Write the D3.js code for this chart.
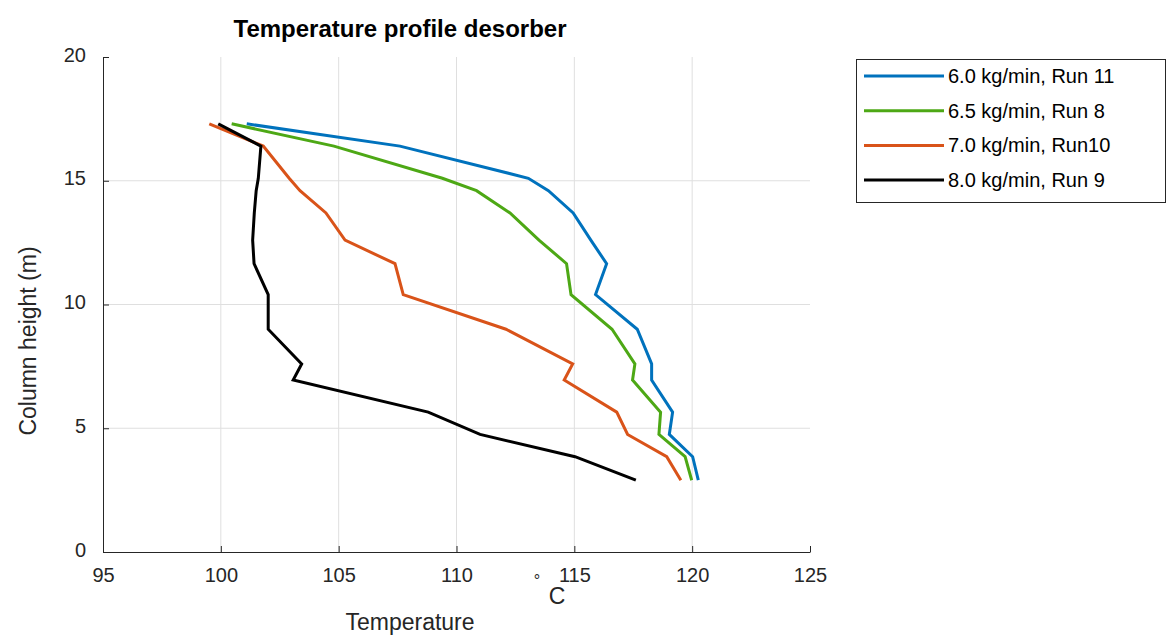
<!DOCTYPE html>
<html>
<head>
<meta charset="utf-8">
<script src="https://cdn.jsdelivr.net/npm/d3@7"></script>
<style>
  body { margin: 0; background: #fff; }
  svg { display: block; font-family: "Liberation Sans", Arial, sans-serif; }
</style>
</head>
<body>
<svg id="chart" width="1167" height="635"></svg>
<script>
// ---- data ----
const heights = [17.3, 16.4, 15.1, 14.6, 13.7, 12.6, 11.65, 10.4, 9.0, 7.6, 6.95, 5.65, 4.75, 3.85, 2.9];
const seriesNames = ["6.0 kg/min, Run 11", "6.5 kg/min, Run 8", "7.0 kg/min, Run10", "8.0 kg/min, Run 9"];
const run11 = [101.1, 107.6, 113.05, 113.9, 114.95, 115.7, 116.37, 115.9, 117.67, 118.28, 118.28, 119.17, 119.03, 120.02, 120.26];
const run8  = [100.46, 104.8, 109.4, 110.85, 112.27, 113.5, 114.67, 114.86, 116.6, 117.57, 117.47, 118.66, 118.59, 119.7, 119.98];
const run10 = [99.51, 101.8, 102.9, 103.36, 104.46, 105.27, 107.39, 107.74, 112.1, 114.93, 114.57, 116.8, 117.26, 118.92, 119.52];
const run9  = [99.89, 101.7, 101.59, 101.5, 101.42, 101.35, 101.41, 102.01, 102.01, 103.43, 103.07, 108.8, 111.0, 115.03, 117.61];
const seriesValues = [run11, run8, run10, run9];
const colors = ["#0072BD", "#4DA815", "#D95319", "#000000"];
const xTicks = [95, 100, 105, 110, 115, 120, 125];
const yTicks = [0, 5, 10, 15, 20];

// ---- layout ----
const svg = d3.select("#chart");
const L = 103, R = 810, T = 57, B = 552;
const x = d3.scaleLinear().domain([95, 125]).range([L, R]);
const y = d3.scaleLinear().domain([0, 20]).range([B, T]);
const axisColor = "#262626";

// grid
const g = svg.append("g");
g.selectAll(".gx").data(xTicks.filter(d => d > 95 && d < 125)).enter().append("line")
  .attr("x1", d => x(d)).attr("x2", d => x(d)).attr("y1", T).attr("y2", B)
  .attr("stroke", "#dfdfdf").attr("stroke-width", 1);
g.selectAll(".gy").data(yTicks.filter(d => d > 0 && d < 20)).enter().append("line")
  .attr("y1", d => y(d)).attr("y2", d => y(d)).attr("x1", L).attr("x2", R)
  .attr("stroke", "#dfdfdf").attr("stroke-width", 1);

// axes
const xAxis = d3.axisBottom(x).tickValues(xTicks).tickSizeInner(-6).tickSizeOuter(0).tickPadding(16);
const yAxis = d3.axisLeft(y).tickValues(yTicks).tickSizeInner(-6).tickSizeOuter(0).tickPadding(17);
const gx = svg.append("g").attr("transform", `translate(0,${B})`).call(xAxis);
const gy = svg.append("g").attr("transform", `translate(${L},0)`).call(yAxis);
[gx, gy].forEach(a => {
  a.select(".domain").attr("stroke", axisColor).attr("stroke-width", 1);
  a.selectAll(".tick line").attr("stroke", axisColor);
  a.selectAll(".tick text").attr("fill", axisColor).style("font-size", "20px")
    .style("font-family", "'Liberation Sans', Arial, sans-serif");
});
gx.selectAll(".tick text").attr("dy", "0.72em");
gy.selectAll(".tick text").attr("dy", "0.2em");

// lines
const line = d3.line().x(d => x(d[0])).y(d => y(d[1]));
seriesValues.forEach((vals, i) => {
  const pts = vals.map((v, j) => [v, heights[j]]);
  svg.append("path").datum(pts).attr("d", line)
    .attr("fill", "none").attr("stroke", colors[i]).attr("stroke-width", 3)
    .attr("stroke-linejoin", "miter");
});

// title
svg.append("text").attr("x", 400).attr("y", 37).attr("text-anchor", "middle")
  .style("font-size", "24px").style("font-weight", "bold").attr("fill", "#000")
  .text("Temperature profile desorber");

// x label
svg.append("text").attr("x", 410).attr("y", 630).attr("text-anchor", "middle")
  .style("font-size", "23px").attr("fill", axisColor).text("Temperature");
svg.append("text").attr("x", 537).attr("y", 586).attr("text-anchor", "middle")
  .style("font-size", "16px").attr("fill", axisColor).text("°");
svg.append("text").attr("x", 557).attr("y", 604).attr("text-anchor", "middle")
  .style("font-size", "23px").attr("fill", axisColor).text("C");

// y label
svg.append("text").attr("transform", "translate(36,341) rotate(-90)").attr("text-anchor", "middle")
  .style("font-size", "23px").attr("fill", axisColor).text("Column height (m)");

// legend
const lg = svg.append("g");
lg.append("rect").attr("x", 856.5).attr("y", 59.5).attr("width", 309).attr("height", 143)
  .attr("fill", "#fff").attr("stroke", axisColor).attr("stroke-width", 1);
seriesNames.forEach((name, i) => {
  const yy = 76 + i * 34.7;
  lg.append("line").attr("x1", 864).attr("x2", 944).attr("y1", yy).attr("y2", yy)
    .attr("stroke", colors[i]).attr("stroke-width", 3);
  lg.append("text").attr("x", 948).attr("y", yy + 7).style("font-size", "20px")
    .attr("fill", "#000").text(name);
});
</script>
</body>
</html>
